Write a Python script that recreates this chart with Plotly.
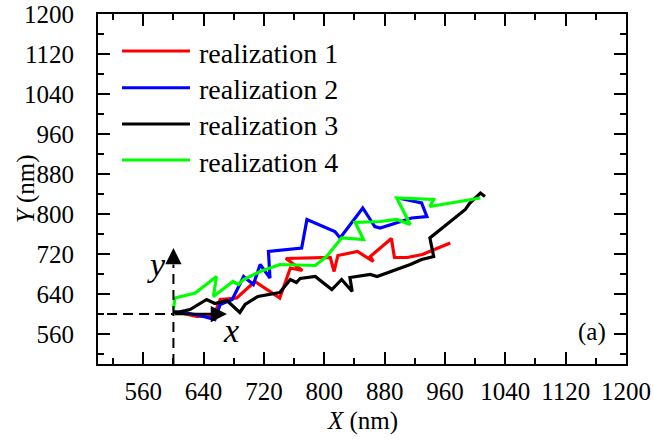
import plotly.graph_objects as go

# ---- data (nm) ----
red_x = [600, 609, 631, 653, 662, 684, 708, 741, 755, 771, 749, 808, 813, 818, 844, 865, 861, 889, 893, 910, 930, 967]
red_y = [605, 602, 595, 595, 629, 632, 665, 632, 692, 687, 711, 713, 685, 717, 725, 705, 715, 751, 713, 713, 719, 742]

blue_x = [601, 618, 635, 655, 662, 678, 693, 706, 715, 728, 726, 770, 777, 814, 821, 851, 867, 874, 916, 936, 929, 901]
blue_y = [605, 602, 597, 589, 619, 629, 675, 659, 699, 672, 725, 732, 789, 765, 752, 812, 775, 772, 792, 795, 822, 831]

black_x = [601, 622, 644, 655, 671, 688, 695, 712, 741, 755, 763, 768, 788, 801, 810, 823, 837, 834, 861, 870,
           914, 929, 945, 940, 987, 993, 1007, 1013]
black_y = [602, 609, 629, 621, 627, 603, 619, 635, 643, 669, 663, 671, 675, 659, 649, 669, 645, 673, 679, 675,
           699, 709, 715, 752, 809, 822, 842, 835]

green_x = [600, 602, 629, 657, 653, 671, 679, 686, 693, 715, 741, 788, 803, 823, 852, 841, 874, 896, 914, 896,
           945, 940, 1007]
green_y = [608, 632, 642, 675, 635, 655, 665, 659, 669, 685, 699, 697, 715, 752, 749, 783, 785, 789, 779, 832,
           829, 815, 832]

series_names = ["realization 1", "realization 2", "realization 3", "realization 4"]
series_colors = ["#ff0000", "#0000ff", "#000000", "#00ff00"]

x_tickvals = [560, 640, 720, 800, 880, 960, 1040, 1120, 1200]
y_tickvals = [560, 640, 720, 800, 880, 960, 1040, 1120, 1200]

origin_x, origin_y = 600, 600
arrow_x_tip = 671
arrow_y_tip = 732

FONT = "Liberation Serif, Times New Roman, serif"

fig = go.Figure()
for xs, ys, name, col in zip([red_x, blue_x, black_x, green_x], [red_y, blue_y, black_y, green_y],
                             series_names, series_colors):
    fig.add_trace(go.Scatter(x=xs, y=ys, mode="lines", name=name,
                             line=dict(color=col, width=3.2), showlegend=False))

axis_common = dict(
    showline=True, linecolor="black", linewidth=2, mirror="allticks",
    ticks="inside", ticklen=12, tickwidth=2, tickcolor="black",
    minor=dict(ticks="inside", ticklen=6, tickwidth=2, tickcolor="black", dtick=40),
    showgrid=False, zeroline=False, automargin=False,
    tickfont=dict(family=FONT, size=25, color="black"),
)
fig.update_xaxes(range=[500, 1200], tickvals=x_tickvals, ticklabelstandoff=4, **axis_common)
fig.update_yaxes(range=[500, 1200], tickvals=y_tickvals, ticklabelstandoff=17, **axis_common)

# dashed reference lines through the origin
fig.add_shape(type="line", xref="x", yref="y", x0=512, y0=origin_y, x1=origin_x, y1=origin_y,
              line=dict(color="black", width=2, dash="10px,6px"))
fig.add_shape(type="line", xref="x", yref="y", x0=origin_x, y0=500, x1=origin_x, y1=699,
              line=dict(color="black", width=2, dash="10px,6px"))

# arrows
fig.add_annotation(x=arrow_x_tip, y=origin_y, ax=origin_x, ay=origin_y, xref="x", yref="y",
                   axref="x", ayref="y", text="", showarrow=True, arrowhead=2, arrowsize=1.3,
                   arrowwidth=2.5, arrowcolor="black")
fig.add_annotation(x=origin_x, y=arrow_y_tip, ax=origin_x, ay=699, xref="x", yref="y",
                   axref="x", ayref="y", text="", showarrow=True, arrowhead=2, arrowsize=1.3,
                   arrowwidth=2.5, arrowcolor="black")
fig.add_annotation(x=676, y=568, xref="x", yref="y", text="<i>x</i>", showarrow=False,
                   font=dict(family=FONT, size=34, color="black"))
fig.add_annotation(x=577, y=700, xref="x", yref="y", text="<i>y</i>", showarrow=False,
                   font=dict(family=FONT, size=34, color="black"))

# (a) label
fig.add_annotation(x=0.965, y=0.091, xref="paper", yref="paper", text="(a)", showarrow=False,
                   xanchor="right", yanchor="middle", font=dict(family=FONT, size=25, color="black"))

# axis titles
fig.add_annotation(x=0.5, y=-0.163, xref="paper", yref="paper", text="<i>X</i> (nm)", showarrow=False,
                   xanchor="center", yanchor="middle", font=dict(family=FONT, size=25, color="black"))
fig.add_annotation(x=-0.136, y=0.5, xref="paper", yref="paper", text="<i>Y</i> (nm)", showarrow=False,
                   textangle=-90, xanchor="center", yanchor="middle",
                   font=dict(family=FONT, size=25, color="black"))

# legend (drawn manually for long sample lines)
leg_rows = [0.894, 0.789, 0.686, 0.583]
for yy, name, col in zip(leg_rows, series_names, series_colors):
    fig.add_shape(type="line", xref="paper", yref="paper", x0=0.0455, x1=0.1742, y0=yy, y1=yy,
                  line=dict(color=col, width=3))
    fig.add_annotation(x=0.1875, y=yy - 0.006, xref="paper", yref="paper", text=name, showarrow=False,
                       xanchor="left", yanchor="middle", font=dict(family=FONT, size=28, color="black"))

fig.update_layout(width=654, height=441, margin=dict(l=98, r=28, t=14, b=77, autoexpand=False),
                  plot_bgcolor="white", paper_bgcolor="white", showlegend=False)

# remove the default 8px page margin so the figure fills the window exactly
fig.write_html("out.html", config={"displayModeBar": False},
               post_script="document.body.style.margin='0';")
